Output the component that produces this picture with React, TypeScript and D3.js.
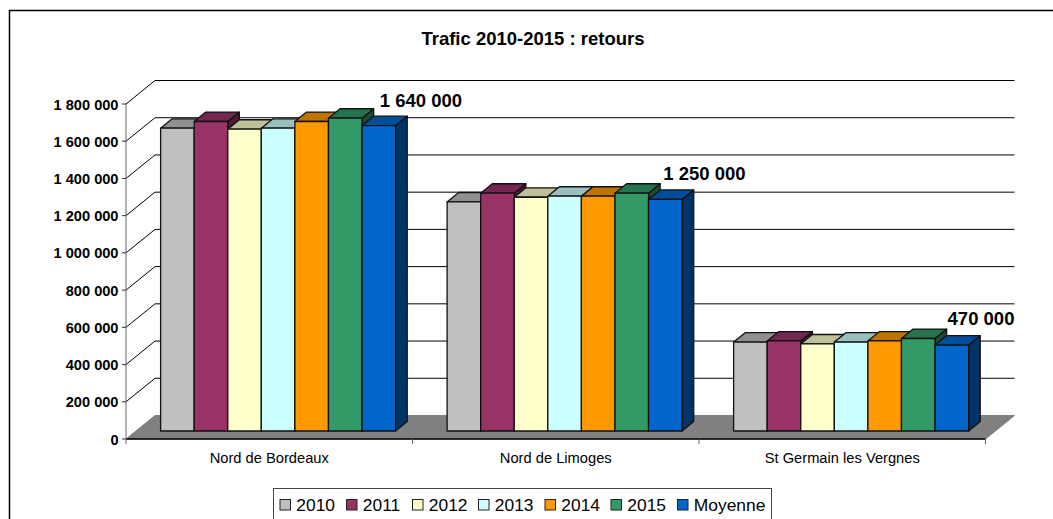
import React from 'react';
import * as d3 from 'd3';

const title = 'Trafic 2010-2015 : retours';
const categories = ['Nord de Bordeaux', 'Nord de Limoges', 'St Germain les Vergnes'];
const seriesNames = ['2010', '2011', '2012', '2013', '2014', '2015', 'Moyenne'];
const colors = ['#c0c0c0', '#993366', '#ffffcc', '#ccffff', '#ff9900', '#339966', '#0066cc'];
const topColors = ['#909090', '#732650', '#bfbf99', '#99bfbf', '#bf7300', '#267350', '#004d99'];
const sideColors = ['#606060', '#4d1a33', '#808066', '#668080', '#804d00', '#1a4d33', '#003366'];

const bordeaux = [1627000, 1663000, 1622000, 1627000, 1663000, 1681000, 1641000];
const limoges = [1231000, 1278000, 1256000, 1262000, 1262000, 1278000, 1245000];
const germain = [478000, 484000, 468000, 478000, 484000, 497000, 462000];
const values = [bordeaux, limoges, germain];

const totalLabels = ['1 640 000', '1 250 000', '470 000'];
const totalLabelX = [421, 704.5, 981];
const totalLabelY = [107, 180, 325];
const yTicks = [0, 200000, 400000, 600000, 800000, 1000000, 1200000, 1400000, 1600000, 1800000];

const width = 1053;
const height = 519;
const font = '"Liberation Sans", Arial, sans-serif';

// oblique projection of the 3D box: depth 0 is the front, 1 the back wall
const depthX = 29;
const depthY = 23.5;
const barFront = 0.34;
const barBack = 0.74;

const x = d3.scaleBand().domain(categories).range([126, 985.5]);
const y = d3.scaleLinear().domain([0, 1800000]).range([439, 104]);
const seriesX = d3
  .scaleBand()
  .domain(seriesNames)
  .range([0, 235]);

const px = (xv: number, depth: number) => xv + depth * depthX;
const py = (v: number, depth: number) => y(v) - depth * depthY;

const poly = (pts: [number, number][]) => d3.line()(pts) + 'Z';
const fmt = (v: number) => d3.format(',')(v).replace(/,/g, ' ');

const Bar = ({ x0, value, i }: { x0: number; value: number; i: number }) => {
  const x1 = x0 + seriesX.bandwidth();
  const a = px(x0, barFront);
  const b = px(x1, barFront);
  const c = px(x0, barBack);
  const d = px(x1, barBack);
  const top = py(value, barFront);
  const topB = py(value, barBack);
  const base = py(0, barFront);
  const baseB = py(0, barBack);
  const stroke = { stroke: '#111', strokeWidth: 1.3, strokeLinejoin: 'round' as const };
  return (
    <g>
      <path d={poly([[b, top], [d, topB], [d, baseB], [b, base]])} fill={sideColors[i]} {...stroke} />
      <path d={poly([[a, top], [c, topB], [d, topB], [b, top]])} fill={topColors[i]} {...stroke} />
      <rect x={a} y={top} width={b - a} height={base - top} fill={colors[i]} {...stroke} />
    </g>
  );
};

const legendItemX = [280, 346.5, 412.5, 478.5, 545, 611, 677.5];

export default function App() {
  const x0 = x(categories[0]) as number;
  const xEnd = x0 + x.step() * categories.length;
  const groupOffset = (x.bandwidth() - seriesX.range()[1]) / 2 - 1;

  return (
    <svg
      width={width}
      height={height}
      style={{ position: 'fixed', left: 0, top: 0, display: 'block', background: '#fff' }}
      fontFamily={font}
    >
      {/* chart frame runs off the picture on the right and at the bottom */}
      <rect x={9.5} y={10.5} width={1060} height={530} fill="#fff" stroke="#000" strokeWidth={1.5} />

      <text x={533} y={45} textAnchor="middle" fontSize={18.5} fontWeight="bold" fill="#000">
        {title}
      </text>

      {/* walls */}
      {yTicks.slice(1).map(t => (
        <path
          key={t}
          d={`M${px(x0, 0)},${py(t, 0)}L${px(x0, 1)},${py(t, 1)}L${px(xEnd, 1)},${py(t, 1)}`}
          fill="none"
          stroke="#000"
          strokeWidth={1}
        />
      ))}

      {/* floor */}
      <path
        d={poly([
          [px(x0, 0), py(0, 0)],
          [px(xEnd, 0), py(0, 0)],
          [px(xEnd, 1), py(0, 1)],
          [px(x0, 1), py(0, 1)],
        ])}
        fill="#808080"
        stroke="#555"
        strokeWidth={0.6}
      />
      <line x1={x0} x2={xEnd} y1={y(0)} y2={y(0)} stroke="#000" strokeWidth={1.4} />

      {/* axes */}
      <line x1={x0} x2={x0} y1={y(1800000)} y2={y(0)} stroke="#666" strokeWidth={1} />
      {yTicks.map(t => (
        <g key={t}>
          <line x1={x0 - 4} x2={x0} y1={y(t)} y2={y(t)} stroke="#333" />
          <text x={118.5} y={y(t) + 5.5} textAnchor="end" fontSize={14.6} fontWeight="bold" fill="#000">
            {fmt(t)}
          </text>
        </g>
      ))}
      {d3.range(categories.length + 1).map(k => (
        <line
          key={k}
          x1={x0 + k * x.step()}
          x2={x0 + k * x.step()}
          y1={y(0)}
          y2={y(0) + 5}
          stroke="#666"
        />
      ))}

      {/* bars */}
      {categories.map((c, ci) =>
        values[ci].map((v, i) => (
          <Bar
            key={c + i}
            x0={(x(c) as number) + groupOffset + (seriesX(seriesNames[i]) as number)}
            value={v}
            i={i}
          />
        ))
      )}

      {categories.map((c, ci) => (
        <text
          key={c}
          x={(x(c) as number) + x.bandwidth() / 2}
          y={462.5}
          textAnchor="middle"
          fontSize={14.7}
          fill="#000"
        >
          {c}
        </text>
      ))}

      {/* totals */}
      {totalLabels.map((t, i) => (
        <text
          key={t}
          x={totalLabelX[i]}
          y={totalLabelY[i]}
          textAnchor="middle"
          fontSize={18.5}
          fontWeight="bold"
          fill="#000"
        >
          {t}
        </text>
      ))}

      {/* legend */}
      <rect x={273.5} y={488.5} width={498} height={40} fill="#fff" stroke="#444" />
      {seriesNames.map((s, i) => (
        <g key={s}>
          <rect x={legendItemX[i]} y={499.5} width={10.5} height={10.5} fill={colors[i]} stroke="#222" />
          <text x={legendItemX[i] + 16.3} y={511} fontSize={17.4} fill="#000">
            {s}
          </text>
        </g>
      ))}
    </svg>
  );
}
